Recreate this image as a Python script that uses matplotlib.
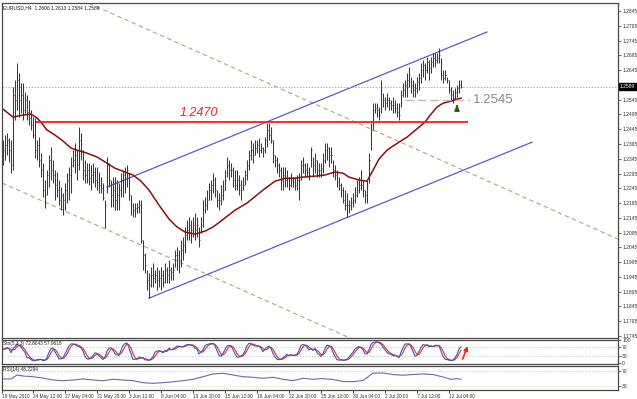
import matplotlib.pyplot as plt
import numpy as np
import pandas as pd

plt.rcParams["font.family"] = ["Liberation Sans", "DejaVu Sans"]

# EURUSD H4 bars, prices in pips (1.2408 -> 12408)
high_pips = [
    12408, 12425, 12432, 12415, 12408, 12587, 12611, 12669, 12635, 12601,
    12601, 12571, 12560, 12543, 12510, 12486, 12483, 12408, 12418, 12364,
    12330, 12273, 12306, 12357, 12384, 12340, 12306, 12300, 12273, 12249,
    12229, 12262, 12296, 12317, 12351, 12374, 12398, 12374, 12452, 12432,
    12374, 12340, 12330, 12330, 12323, 12330, 12317, 12317, 12300, 12283,
    12262, 12205, 12351, 12330, 12273, 12283, 12283, 12273, 12262, 12296,
    12306, 12317, 12323, 12296, 12222, 12195, 12195, 12195, 12205, 12205,
    12070, 12026, 11968, 11958, 11978, 11992, 11968, 11978, 11968, 11978,
    11968, 11992, 11978, 12002, 11978, 11992, 12036, 12046, 12036, 12070,
    12080, 12114, 12137, 12147, 12137, 12147, 12161, 12147, 12114, 12147,
    12205, 12215, 12239, 12262, 12273, 12296, 12283, 12239, 12229, 12256,
    12273, 12306, 12351, 12340, 12330, 12317, 12306, 12306, 12290, 12273,
    12283, 12306, 12340, 12374, 12408, 12398, 12408, 12408, 12415, 12398,
    12384, 12418, 12466, 12466, 12452, 12408, 12357, 12351, 12330, 12317,
    12317, 12317, 12306, 12283, 12296, 12283, 12283, 12290, 12296, 12340,
    12351, 12330, 12330, 12317, 12384, 12351, 12364, 12340, 12330, 12330,
    12364, 12398, 12398, 12384, 12384, 12340, 12323, 12306, 12283, 12262,
    12249, 12239, 12229, 12205, 12215, 12229, 12249, 12273, 12283, 12306,
    12273, 12239, 12273, 12364, 12466, 12533, 12533, 12533, 12520, 12611,
    12567, 12554, 12567, 12554, 12543, 12554, 12543, 12533, 12533, 12577,
    12601, 12611, 12635, 12655, 12621, 12611, 12601, 12621, 12635, 12669,
    12679, 12669, 12689, 12679, 12689, 12703, 12703, 12703, 12720, 12686,
    12645, 12645, 12621, 12611, 12587, 12577, 12584, 12594, 12611, 12613,
]
low_pips = [
    12323, 12340, 12357, 12334, 12296, 12306, 12476, 12510, 12486, 12499,
    12476, 12499, 12476, 12459, 12442, 12415, 12347, 12340, 12317, 12283,
    12215, 12178, 12222, 12249, 12273, 12262, 12205, 12215, 12188, 12171,
    12154, 12171, 12195, 12205, 12229, 12317, 12296, 12273, 12306, 12340,
    12273, 12262, 12262, 12256, 12239, 12262, 12249, 12239, 12229, 12229,
    12205, 12110, 12229, 12249, 12181, 12181, 12171, 12171, 12171, 12215,
    12215, 12229, 12249, 12205, 12154, 12147, 12147, 12161, 12161, 12059,
    11968, 11958, 11900, 11873, 11910, 11910, 11924, 11900, 11910, 11900,
    11910, 11924, 11924, 11924, 11934, 11934, 11978, 11968, 11958, 11978,
    12002, 12026, 12070, 12070, 12059, 12080, 12070, 12080, 12046, 12093,
    12114, 12161, 12171, 12205, 12205, 12229, 12215, 12181, 12171, 12188,
    12205, 12239, 12283, 12273, 12283, 12249, 12239, 12239, 12222, 12205,
    12239, 12256, 12273, 12306, 12340, 12330, 12357, 12364, 12351, 12364,
    12351, 12364, 12384, 12408, 12398, 12330, 12317, 12296, 12283, 12239,
    12239, 12249, 12249, 12239, 12249, 12249, 12239, 12239, 12205, 12273,
    12296, 12283, 12283, 12273, 12317, 12283, 12296, 12283, 12283, 12283,
    12296, 12330, 12340, 12317, 12330, 12283, 12273, 12249, 12239, 12215,
    12195, 12171, 12147, 12161, 12171, 12181, 12195, 12215, 12229, 12239,
    12215, 12195, 12195, 12262, 12374, 12442, 12499, 12486, 12476, 12499,
    12520, 12510, 12520, 12510, 12510, 12499, 12499, 12486, 12476, 12520,
    12554, 12554, 12554, 12587, 12567, 12554, 12554, 12567, 12577, 12601,
    12621, 12611, 12635, 12611, 12635, 12655, 12655, 12669, 12669, 12611,
    12601, 12611, 12601, 12567, 12543, 12533, 12543, 12554, 12567, 12584,
]
close_pips = [
    12374, 12391, 12408, 12374, 12323, 12560, 12543, 12611, 12543, 12560,
    12510, 12543, 12503, 12483, 12459, 12425, 12374, 12391, 12340, 12306,
    12239, 12222, 12290, 12340, 12306, 12290, 12256, 12239, 12205, 12222,
    12205, 12239, 12273, 12290, 12323, 12340, 12357, 12323, 12408, 12374,
    12306, 12290, 12306, 12279, 12290, 12300, 12273, 12266, 12256, 12246,
    12212, 12188, 12323, 12273, 12222, 12239, 12205, 12222, 12239, 12273,
    12290, 12300, 12306, 12222, 12188, 12171, 12178, 12181, 12188, 12070,
    12019, 11985, 11934, 11917, 11951, 11941, 11951, 11934, 11941, 11951,
    11927, 11968, 11951, 11968, 11961, 11968, 12019, 12019, 12002, 12036,
    12053, 12086, 12103, 12120, 12103, 12120, 12103, 12120, 12070, 12120,
    12171, 12188, 12205, 12239, 12256, 12273, 12239, 12205, 12205, 12222,
    12239, 12273, 12323, 12306, 12306, 12273, 12256, 12273, 12256, 12239,
    12256, 12290, 12323, 12357, 12374, 12357, 12381, 12391, 12374, 12381,
    12374, 12408, 12442, 12425, 12408, 12357, 12340, 12323, 12306, 12273,
    12290, 12273, 12279, 12256, 12273, 12266, 12256, 12273, 12273, 12323,
    12323, 12306, 12300, 12290, 12374, 12323, 12340, 12306, 12306, 12313,
    12340, 12374, 12381, 12357, 12357, 12306, 12290, 12266, 12256, 12239,
    12205, 12188, 12188, 12188, 12198, 12205, 12222, 12239, 12256, 12256,
    12239, 12222, 12256, 12340, 12442, 12510, 12516, 12510, 12493, 12577,
    12543, 12533, 12543, 12533, 12527, 12527, 12516, 12503, 12493, 12560,
    12577, 12594, 12611, 12628, 12594, 12577, 12584, 12604, 12618, 12645,
    12662, 12645, 12672, 12652, 12672, 12686, 12679, 12686, 12696, 12628,
    12618, 12628, 12611, 12577, 12560, 12550, 12571, 12584, 12594, 12589,
]

# moving average, sampled along the bars
ma_bars = [0, 5, 10, 14, 17, 19, 22, 26, 30, 34, 37, 42, 47, 52, 56, 61, 65, 69, 73, 78,
           83, 87, 91, 96, 101, 105, 109, 116, 122, 130, 136, 141, 146, 150, 156, 161, 166, 170, 173, 178,
           182, 185, 188, 192, 195, 198, 202, 205, 208, 211, 214, 217, 220, 224, 227, 229]
ma_pips = [12513, 12486, 12493, 12496, 12483, 12469, 12442, 12425, 12405, 12381,
           12374, 12364, 12351, 12330, 12313, 12300, 12290, 12269, 12239, 12188,
           12141, 12114, 12097, 12090, 12100, 12114, 12134, 12171, 12195, 12239,
           12269, 12279, 12279, 12283, 12286, 12290, 12300, 12296, 12283, 12273,
           12269, 12306, 12344, 12374, 12388, 12401, 12418, 12435, 12452, 12469,
           12496, 12520, 12533, 12540, 12547, 12550]

# RSI(14), sampled along the bars
rsi_bars = [0, 4, 7, 10, 15, 20, 25, 30, 35, 40, 45, 50, 55, 60, 65, 70, 75, 80, 85, 90,
            95, 100, 105, 110, 115, 120, 125, 130, 135, 140, 145, 150, 155, 160, 165, 170, 175, 180, 185, 190,
            195, 200, 205, 210, 215, 220, 224, 227, 229]
rsi_vals = [48.7, 48.7, 58.9, 56.3, 54.5, 51.2, 46.1, 44.4, 46.1, 48.7,
            46.1, 44.4, 47.9, 46.1, 44.4, 39.3, 37.8, 39.3, 41.8, 44.4,
            47.9, 54.5, 61.4, 63.2, 58.9, 54.5, 53.0, 50.5, 53.0, 47.9,
            44.4, 50.5, 47.9, 49.7, 47.4, 42.3, 41.8, 44.9, 63.4, 63.9,
            60.1, 58.3, 60.1, 61.4, 60.1, 53.8, 47.9, 49.4, 48.2]

date_bars = [-0.5, 15, 31, 47, 63, 79, 95, 111, 127, 143, 159, 175, 191, 207, 223]
date_labels = ["19 May 2010", "24 May 12:00", "27 May 04:00", "31 May 20:00", "3 Jun 12:00",
               "8 Jun 04:00", "10 Jun 20:00", "15 Jun 12:00", "18 Jun 04:00", "22 Jun 20:00",
               "25 Jun 12:00", "30 Jun 04:00", "2 Jul 20:00", "7 Jul 12:00", "12 Jul 04:00"]

price_ticks = [1.2845, 1.2795, 1.2745, 1.2695, 1.2645, 1.2545, 1.2495, 1.2445, 1.2395,
               1.2345, 1.2295, 1.2245, 1.2195, 1.2145, 1.2095, 1.2045, 1.1995, 1.1945,
               1.1895, 1.1845, 1.1795, 1.1745]

last_close = 1.2589
resistance = 1.2470
support = 1.2545

# trend lines: (bar, price) end points
up_channel_top = [(52, 1.2249), (242, 1.2774)]
up_channel_bottom = [(73, 1.1873), (264.5, 1.2401)]
down_channel_top = [(43, 1.2871), (307.5, 1.2073)]
down_channel_bottom = [(-0.5, 1.2263), (173.5, 1.1738)]

high = np.array(high_pips) / 10000
low = np.array(low_pips) / 10000
close = np.array(close_pips) / 10000
ma = np.array(ma_pips) / 10000
bars = np.arange(len(close))

# stochastic (5,3,3) from the bars
h, l, c = pd.Series(high), pd.Series(low), pd.Series(close)
ll = l.rolling(5, min_periods=1).min()
hh = h.rolling(5, min_periods=1).max()
stoch_k = 100 * (c - ll).rolling(3, min_periods=1).sum() / (hh - ll).rolling(3, min_periods=1).sum()
stoch_d = stoch_k.rolling(3, min_periods=1).mean()

W, H = 637, 399
fig = plt.figure(figsize=(W / 100, H / 100), dpi=100)


def panel(top, bottom):
    return fig.add_axes([2 / W, 1 - bottom / H, 616 / W, (bottom - top) / H])


ax = panel(3, 338)
ax_s = panel(339.5, 364)
ax_r = panel(365.5, 389.5)

frame = "#4a4a4a"
for a in (ax, ax_s, ax_r):
    a.set_xlim(-0.5, 307.5)
    for sp in a.spines.values():
        sp.set_color(frame)
        sp.set_linewidth(0.9)
    a.yaxis.tick_right()
    a.tick_params(axis="y", length=2, width=0.5, pad=1, labelsize=3.6, colors="#303030")
    a.tick_params(axis="x", length=0)
    a.set_xticks([])

# main price panel
ax.set_ylim(1.17382, 1.28722)
ax.set_yticks(price_ticks)
ax.set_yticklabels([f"{p:.4f}" for p in price_ticks])

for seg in (down_channel_top, down_channel_bottom):
    (x0, y0), (x1, y1) = seg
    ax.plot([x0, x1], [y0, y1], color="#c49a78", lw=0.8, dashes=(4, 3))
for seg in (up_channel_top, up_channel_bottom):
    (x0, y0), (x1, y1) = seg
    ax.plot([x0, x1], [y0, y1], color="#5a5ad0", lw=0.9)

ax.axhline(last_close, color="#7cc4c4", lw=0.7, ls=(0, (1.5, 1.5)))
ax.vlines(bars, low, high, color="#343c3c", lw=0.75)
ax.hlines(close, bars, bars + 0.7, color="#343c3c", lw=0.6)
ax.plot(ma_bars, ma, color="#8b0f0f", lw=1.1)

ax.hlines(resistance, 16.5, 232.5, color="#ff1a1a", lw=1.3)
ax.text(88.5, 1.2500, "1.2470", color="#ff1a1a", fontsize=9, style="italic", va="center", ha="left")
ax.hlines(support, 201, 233.5, color="#bcbcbc", lw=1.0, linestyles=(0, (6, 3)))
ax.text(235, 1.2543, "1.2545", color="#8a8a8a", fontsize=9.5, va="center", ha="left")
ax.annotate("", xy=(227, 1.2536), xytext=(227, 1.2513),
            arrowprops=dict(arrowstyle="-|>", color="#2f5a18", lw=1.6, mutation_scale=6))

ax.text(1 / 616, 1 - 2 / 335, "EURUSD,H4  1.2606 1.2613 1.2584 1.2589", transform=ax.transAxes,
        fontsize=3.6, va="top", ha="left", color="#202020")
ax.annotate(f"{last_close:.4f}", xy=(1.0, last_close), xycoords=("axes fraction", "data"),
            xytext=(1.5, 0), textcoords="offset points", fontsize=3.6, color="white",
            va="center", ha="left", bbox=dict(boxstyle="square,pad=0.25", fc="black", ec="black"))

# stochastic panel
ax_s.set_ylim(-4, 104)
ax_s.set_yticks([100, 70, 30, 0])
ax_s.set_yticklabels(["100", "70", "30", "0"])
for lev in (70, 30):
    ax_s.axhline(lev, color="#a8c8d0", lw=0.6, ls=(0, (1.5, 2)))
ax_s.plot(bars, stoch_d, color="#e03030", lw=0.8)
ax_s.plot(bars, stoch_k, color="#4050c0", lw=0.8)
ax_s.annotate("", xy=(232.8, 86), xytext=(229.3, 6),
              arrowprops=dict(arrowstyle="-|>", color="#ff1a1a", lw=1.2, mutation_scale=6))
ax_s.text(1 / 616, 0.95, "Sto(5,3,3) 72.8643 57.9618", transform=ax_s.transAxes,
          fontsize=3.4, va="top", ha="left", color="#202020")

# RSI panel
ax_r.set_ylim(22, 83)
ax_r.set_yticks([70, 30])
ax_r.set_yticklabels(["70", "30"])
ax_r.axhline(70, color="#a8c8d0", lw=0.6, ls=(0, (1.5, 2)))
ax_r.axhline(30, color="#d8d8a0", lw=0.6, ls=(0, (1.5, 2)))
ax_r.plot(rsi_bars, rsi_vals, color="#6a6aa8", lw=0.8)
ax_r.text(1 / 616, 0.95, "RSI(14) 48.2294", transform=ax_r.transAxes,
          fontsize=3.4, va="top", ha="left", color="#202020")
ax_r.set_xticks(date_bars)
ax_r.set_xticklabels(date_labels, ha="left", fontsize=3.4, color="#303030")
ax_r.tick_params(axis="x", length=2, width=0.5, pad=1.5, direction="out")

fig.savefig("out.png", dpi=100, facecolor="white")
